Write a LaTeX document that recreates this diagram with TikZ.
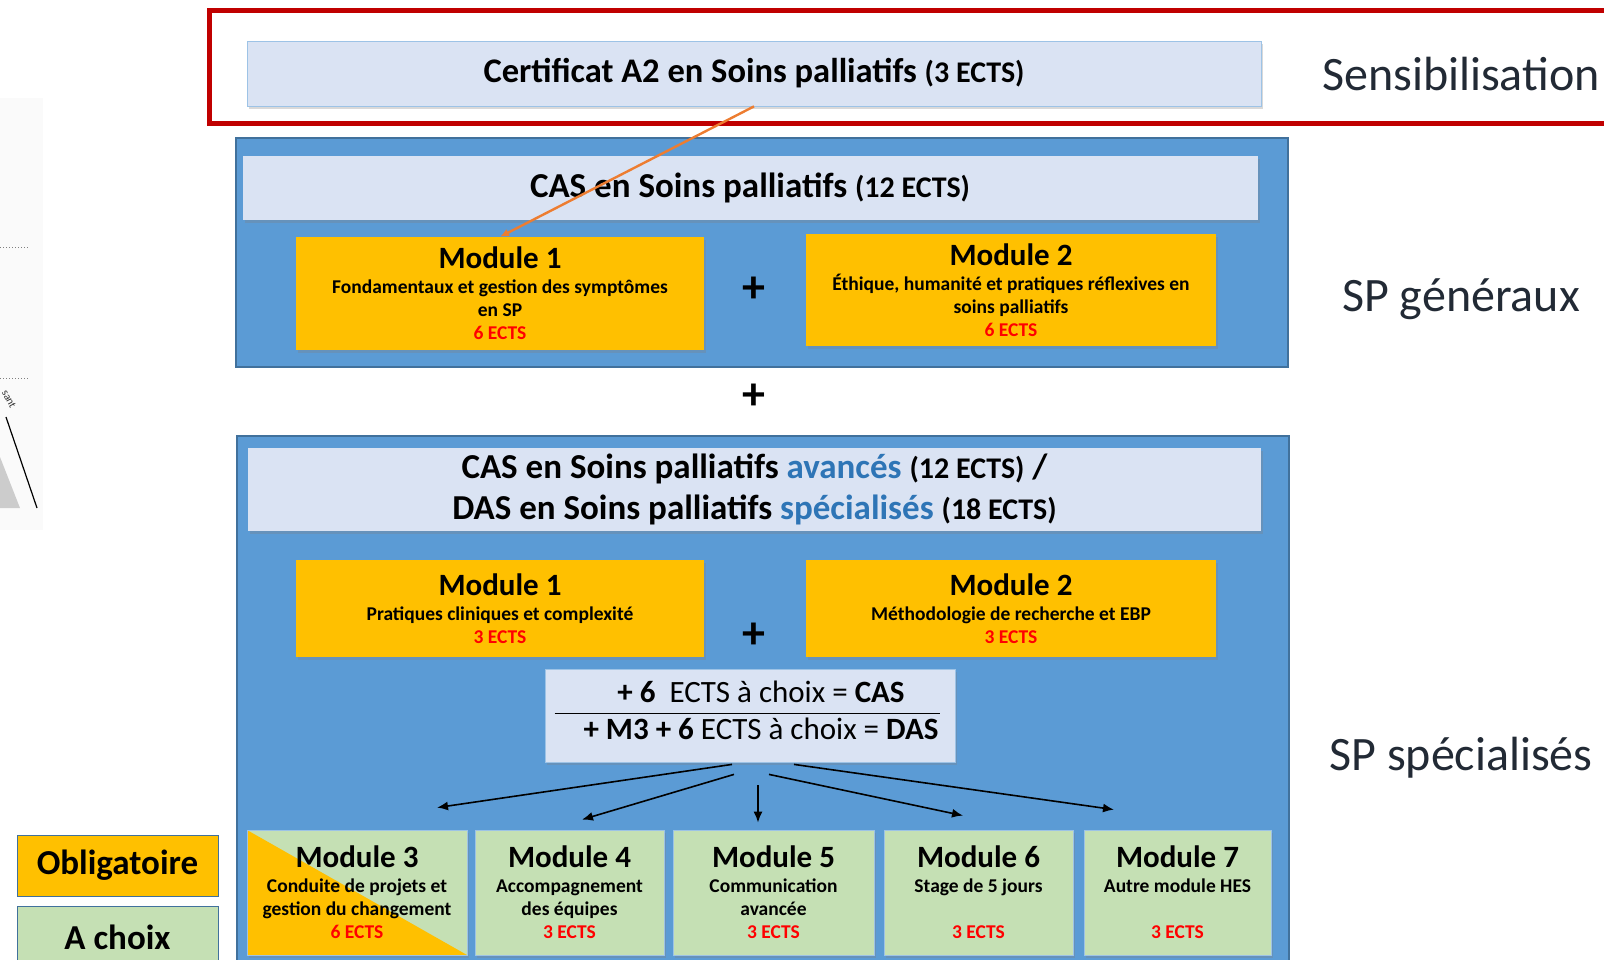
\documentclass[tikz,border=0pt]{standalone}
\usepackage{fontspec}
\setmainfont{Carlito}
\usepackage{tikz}
\usetikzlibrary{arrows.meta}
\usetikzlibrary{shadows}
\usepackage{xcolor}
\definecolor{fondbleu}{HTML}{5B9BD5}
\definecolor{bordbleu}{HTML}{41719C}
\definecolor{clair}{HTML}{DAE3F3}
\definecolor{bordclair}{HTML}{9DC3E6}
\definecolor{oblig}{HTML}{FFC000}
\definecolor{vert}{HTML}{C5E0B4}
\definecolor{rougecadre}{HTML}{C00000}
\definecolor{fleche}{HTML}{ED7D31}
\definecolor{ects}{HTML}{FF0000}
\definecolor{motbleu}{HTML}{2E75B6}
\definecolor{niveau}{HTML}{222A35}

\begin{document}
\begin{tikzpicture}[x=1pt,y=-1pt,
  ombre/.style={drop shadow={opacity=.3,shadow xshift=2pt,shadow yshift=-3pt}},
  bloc/.style={draw=bordbleu,line width=1.2pt,fill=fondbleu},
  titre/.style={fill=clair,draw=bordclair,line width=.8pt,ombre,inner sep=0pt,align=center},
  oblmod/.style={fill=oblig,ombre,inner sep=0pt,align=center,font=\bfseries\fontsize{19.5}{23}\selectfont},
  chxmod/.style={fill=vert,draw=bordclair,line width=.8pt,ombre,inner sep=0pt,align=center,font=\bfseries\fontsize{19.5}{23}\selectfont},
  legende/.style={draw=bordbleu,line width=1pt,inner sep=0pt,font=\bfseries\fontsize{35}{35}\selectfont,minimum width=201pt},
  niv/.style={text=niveau,font=\fontsize{48}{48}\selectfont},
  plus/.style={font=\bfseries\fontsize{46}{46}\selectfont},
  pfeil/.style={-{Latex[length=11pt,width=9pt]},line width=1.6pt}]
  \useasboundingbox (0,0) rectangle (1604,960);

  % bout de figure a gauche
  \path[fill=gray!4] (0,98) rectangle (43,530);
  \draw[gray,dotted,line width=1pt] (0,248)--(28,248);
  \draw[gray,dotted,line width=1pt] (0,378)--(28,378);
  \path[fill=gray!40] (0,457)--(20,508)--(0,508)--cycle;
  \draw[line width=1.2pt] (6,417)--(37,508);
  \node[rotate=-62,font=\fontsize{11}{11}\selectfont,text=black!80,inner sep=0pt] (coupe) at (9,399) {sant};

  % Sensibilisation
  \node[titre,font=\bfseries\fontsize{34.5}{34.5}\selectfont,minimum width=1014pt,minimum height=65pt] (cert) at (754,73.5)
    {Certificat A2 en Soins palliatifs {\fontsize{30}{30}\selectfont(3 ECTS)}};
  \draw[rougecadre,line width=5pt] (209,11) rectangle (1660,124);

  % SP generaux
  \path[bloc] (236,138) rectangle (1288,367);
  \node[titre,draw=none,font=\bfseries\fontsize{35}{35}\selectfont,minimum width=1015pt,minimum height=64pt] (cas) at (750,188)
    {CAS en Soins palliatifs {\fontsize{30}{30}\selectfont(12 ECTS)}};
  \node[oblmod,minimum width=408pt,minimum height=113pt] (m1a) at (500,293.5)
    {{\fontsize{31}{31}\selectfont Module 1}\\[2pt]Fondamentaux et gestion des symptômes\\en SP\\\textcolor{ects}{6 ECTS}};
  \node[oblmod,minimum width=410pt,minimum height=112pt] (m2a) at (1011,290)
    {{\fontsize{31}{31}\selectfont Module 2}\\[2pt]Éthique, humanité et pratiques réflexives en\\soins palliatifs\\\textcolor{ects}{6 ECTS}};
  \node[plus] (plusa) at (754,290) {+};
  \draw[fleche,line width=2.4pt,-{Latex[length=9pt,width=8pt]}] (cert.south) -- (m1a.north);

  \node[plus] (plusb) at (754,397) {+};

  % SP specialises
  \path[bloc] (237,436) rectangle (1289,975);
  \node[titre,draw=none,font=\bfseries\fontsize{35}{41}\selectfont,minimum width=1013pt,minimum height=83pt] (cas2) at (754.5,489.5)
    {CAS en Soins palliatifs \textcolor{motbleu}{avancés} {\fontsize{30}{30}\selectfont(12 ECTS)} /\\
     DAS en Soins palliatifs \textcolor{motbleu}{spécialisés} {\fontsize{30}{30}\selectfont(18 ECTS)}};
  \node[oblmod,minimum width=408pt,minimum height=97pt] (m1b) at (500,608.5)
    {{\fontsize{31}{31}\selectfont Module 1}\\[2pt]Pratiques cliniques et complexité\\\textcolor{ects}{3 ECTS}};
  \node[oblmod,minimum width=410pt,minimum height=97pt] (m2b) at (1011,608.5)
    {{\fontsize{31}{31}\selectfont Module 2}\\[2pt]Méthodologie de recherche et EBP\\\textcolor{ects}{3 ECTS}};
  \node[plus] (plusc) at (754,636) {+};

  \node[titre,font=\fontsize{31}{37}\selectfont,text depth=10pt,minimum width=410pt,minimum height=93pt] (choix) at (750,715.5)
    {\hspace*{22pt}\textbf{+ 6}\ \ ECTS à choix = \textbf{CAS}\\\hspace*{22pt}\textbf{+ M3 + 6} ECTS à choix = \textbf{DAS}};
  \draw[line width=1.5pt] ([shift={(10,-2)}]choix.west) -- ([shift={(-15,-2)}]choix.east);

  \node[chxmod,minimum width=220pt,minimum height=125pt,
    path picture={\fill[oblig] (path picture bounding box.north west) -- (path picture bounding box.south west) -- (path picture bounding box.south east) -- cycle;}]
    (m3) at (357,892.5)
    {{\fontsize{31}{31}\selectfont Module 3}\\[2pt]Conduite de projets et\\gestion du changement\\\textcolor{ects}{6 ECTS}};
  \node[chxmod,minimum width=189pt,minimum height=125pt] (m4) at (569.5,892.5)
    {{\fontsize{31}{31}\selectfont Module 4}\\[2pt]Accompagnement\\des équipes\\\textcolor{ects}{3 ECTS}};
  \node[chxmod,minimum width=201pt,minimum height=125pt] (m5) at (773.5,892.5)
    {{\fontsize{31}{31}\selectfont Module 5}\\[2pt]Communication\\avancée\\\textcolor{ects}{3 ECTS}};
  \node[chxmod,minimum width=189pt,minimum height=125pt] (m6) at (978.5,892.5)
    {{\fontsize{31}{31}\selectfont Module 6}\\[2pt]Stage de 5 jours\\[23pt]\textcolor{ects}{3 ECTS}};
  \node[chxmod,minimum width=187pt,minimum height=125pt] (m7) at (1177.5,892.5)
    {{\fontsize{31}{31}\selectfont Module 7}\\[2pt]Autre module HES\\[23pt]\textcolor{ects}{3 ECTS}};

  \draw[pfeil] ([shift={(-18,2)}]choix.south) -- ([shift={(80,-22)}]m3.north);
  \draw[pfeil] ([shift={(-16,12)}]choix.south) -- ([shift={(12.5,-10)}]m4.north);
  \draw[pfeil] ([shift={(8,23)}]choix.south) -- ([shift={(-15.5,-7)}]m5.north);
  \draw[pfeil] ([shift={(19,12)}]choix.south) -- ([shift={(-15.5,-14)}]m6.north);
  \draw[pfeil] ([shift={(44,2)}]choix.south) -- ([shift={(-63.5,-20)}]m7.north);

  % legende
  \node[legende,fill=oblig,minimum height=61pt] (obl) at (117.5,865.5) {Obligatoire};
  \node[legende,fill=vert,minimum height=62pt] (achx) at (117.5,937) {A choix};

  % niveaux
  \node[niv] (sens) at (1461,74) {Sensibilisation};
  \node[niv] (spg) at (1461,299) {SP généraux};
  \node[niv] (sps) at (1461,758) {SP spécialisés};
\end{tikzpicture}
\end{document}
